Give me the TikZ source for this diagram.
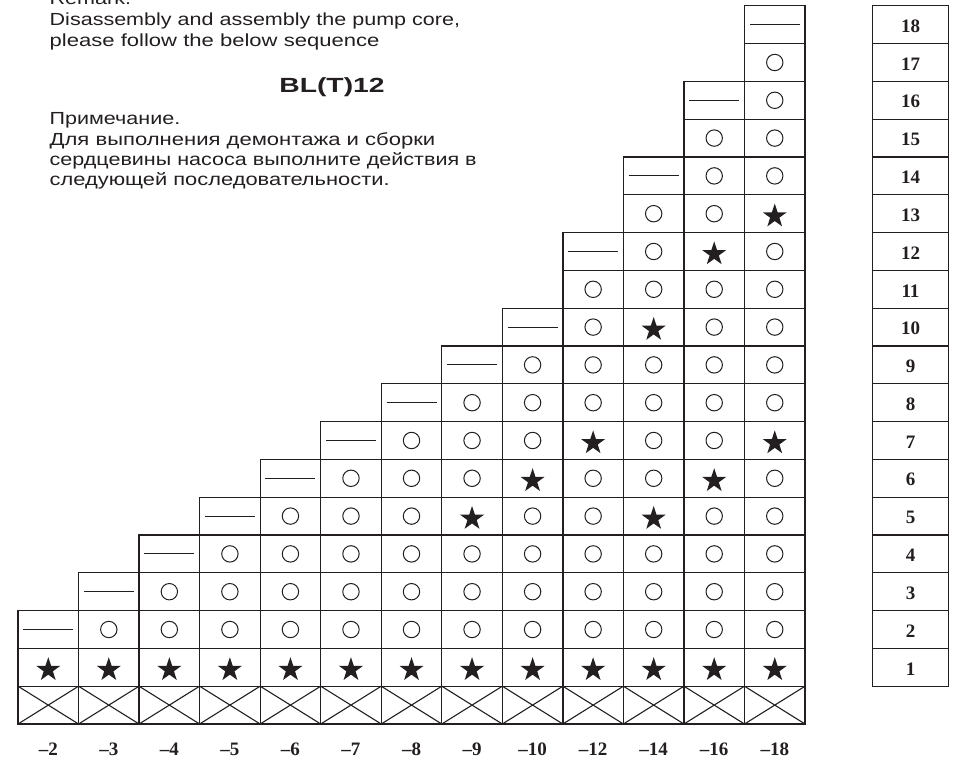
\documentclass[tikz,border=0pt]{standalone}
\usepackage{fontspec}
\setmainfont{Liberation Sans}
\newfontfamily\numfont{Liberation Serif}
\definecolor{ink}{HTML}{231F20}
\newcommand{\wide}[2]{\scalebox{#1}[1]{#2}}
% star positions: column label - row
\expandafter\def\csname st-9-5\endcsname{}
\expandafter\def\csname st-10-6\endcsname{}
\expandafter\def\csname st-12-7\endcsname{}
\expandafter\def\csname st-14-5\endcsname{}
\expandafter\def\csname st-14-10\endcsname{}
\expandafter\def\csname st-16-6\endcsname{}
\expandafter\def\csname st-16-12\endcsname{}
\expandafter\def\csname st-18-7\endcsname{}
\expandafter\def\csname st-18-13\endcsname{}
\newcommand{\starat}[2]{\fill[ink, shift={(#1,#2)}] (90:12.6) -- (126:4.85) -- (162:12.6) -- (198:4.85) -- (234:12.6) -- (270:4.85) -- (306:12.6) -- (342:4.85) -- (18:12.6) -- (54:4.85) -- cycle;}
\begin{document}
\begin{tikzpicture}[x=1pt,y=1pt,
  gridline/.style={draw=ink, line width=1.3pt},
  crossline/.style={draw=ink, line width=1.1pt},
  dashline/.style={draw=ink, line width=1pt},
  ring/.style={draw=ink, line width=1pt},
  txt/.style={anchor=base west, inner sep=0pt, text=ink, font=\fontsize{17.5}{21}\selectfont},
  num/.style={text=ink, inner sep=0pt, font=\numfont\bfseries\fontsize{19}{21}\selectfont},
]
\useasboundingbox (0,0) rectangle (955,760);
\clip (0,0) rectangle (955,760);
\fill[white] (0,0) rectangle (955,760);

% texts
\node[txt] (remark) at (49.5,755) {\wide{1.23}{Remark:}};
\node[txt] (en1) at (49.5,734) {\wide{1.23}{Disassembly and assembly the pump core,}};
\node[txt] (en2) at (49.5,713.5) {\wide{1.26}{please follow the below sequence}};
\node[txt, anchor=base, font=\bfseries\fontsize{20.5}{23}\selectfont] (title) at (332,667) {\wide{1.38}{BL(T)12}};
\node[txt] (ru1) at (49.5,635) {\wide{1.23}{Примечание.}};
\node[txt] (ru2) at (49.5,614) {\wide{1.26}{Для выполнения демонтажа и сборки}};
\node[txt] (ru3) at (49.5,594) {\wide{1.23}{сердцевины насоса выполните действия в}};
\node[txt] (ru4) at (49.5,574) {\wide{1.25}{следующей последовательности.}};

% main staircase grid
\foreach \L [count=\i from 0] in {2,3,4,5,6,7,8,9,10,12,14,16,18} {
  \pgfmathsetmacro\xl{18+\i*60.54}
  \pgfmathsetmacro\xr{\xl+60.54}
  \pgfmathsetmacro\xc{\xl+30.27}
  \foreach \r in {0,...,\L} {
    \draw[gridline] (\xl,{36+\r*37.8}) rectangle (\xr,{36+(\r+1)*37.8});
  }
  \draw[crossline] (\xl,36) -- (\xr,73.8) (\xl,73.8) -- (\xr,36);
  \starat{\xc}{{36+1.5*37.8-2.5}}
  \pgfmathsetmacro\yd{36+(\L+0.5)*37.8}
  \draw[dashline] (\xc-25,\yd) -- (\xc+25,\yd);
  \pgfmathtruncatemacro\top{\L-1}
  \ifnum\top>1
  \foreach \r in {2,...,\top} {
    \pgfmathsetmacro\yc{36+(\r+0.5)*37.8}
    \ifcsname st-\L-\r\endcsname
      \starat{\xc}{{\yc-2.5}}
    \else
      \draw[ring] (\xc,\yc) circle (8.2);
    \fi
  }
  \fi
  \node[num, anchor=base] (lab\i) at (\xc,5) {\textendash\L};
}

% right index column
\foreach \r in {1,...,18} {
  \draw[gridline] (872.7,{36+\r*37.8}) rectangle (948.3,{36+(\r+1)*37.8});
  \node[num] (idx\r) at (910.5,{36+(\r+0.5)*37.8-1.5}) {\r};
}
\end{tikzpicture}
\end{document}
